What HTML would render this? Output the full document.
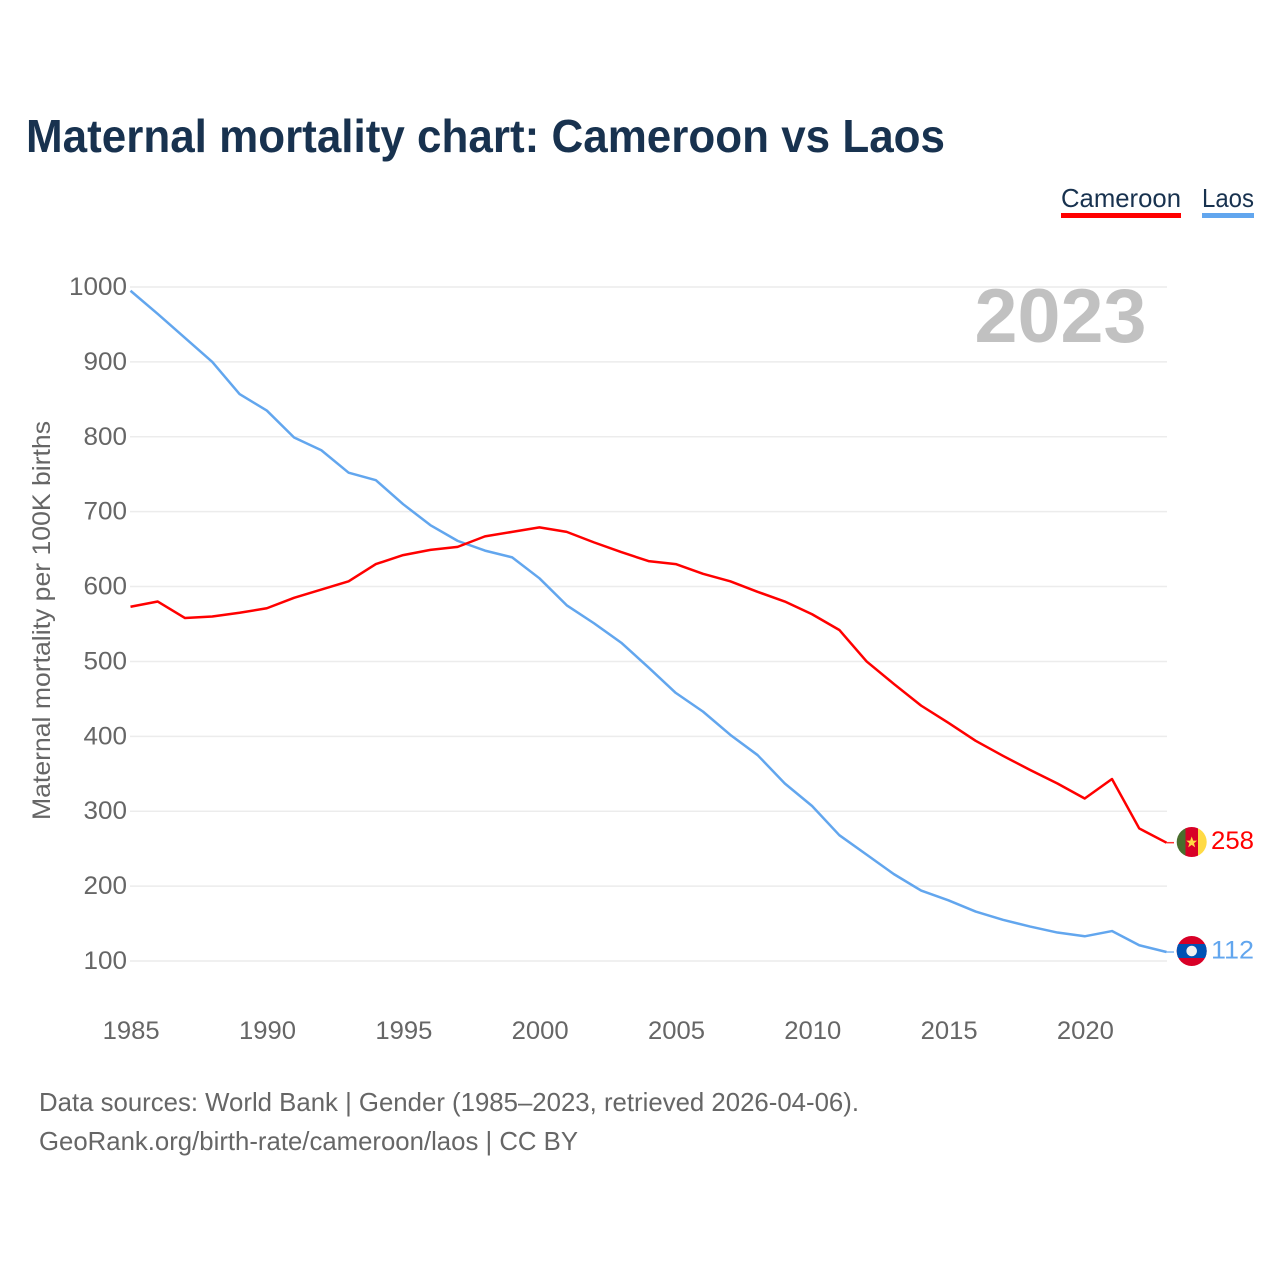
<!DOCTYPE html>
<html lang="en">
<head>
<meta charset="utf-8">
<title>Maternal mortality chart: Cameroon vs Laos</title>
<style>
html,body{margin:0;padding:0;background:#fff;}
svg{display:block;}
text{font-family:"Liberation Sans",sans-serif;}
</style>
</head>
<body>
<svg id="chart" xmlns="http://www.w3.org/2000/svg" width="1280" height="1280" viewBox="0 0 1280 1280">
  <rect x="0" y="0" width="1280" height="1280" fill="#ffffff"/>
  <text x="26" y="152" font-size="46" font-weight="700" fill="#18324f" textLength="919" lengthAdjust="spacingAndGlyphs">Maternal mortality chart: Cameroon vs Laos</text>

  <g>
    <g>
      <text x="1061" y="207" font-size="26" fill="#18324f" textLength="120" lengthAdjust="spacingAndGlyphs">Cameroon</text>
      <rect x="1061" y="213" width="120" height="5" fill="#ff0000"/>
    </g>
    <g>
      <text x="1202" y="207" font-size="26" fill="#18324f" textLength="52" lengthAdjust="spacingAndGlyphs">Laos</text>
      <rect x="1202" y="213" width="52" height="5" fill="#62a6ee"/>
    </g>
  </g>

  <text transform="translate(50 820) rotate(-90)" font-size="25" fill="#666666" textLength="399" lengthAdjust="spacingAndGlyphs">Maternal mortality per 100K births</text>

  <g id="grid"></g>
  <text x="1146.5" y="342" text-anchor="end" font-size="76" font-weight="700" fill="#c1c1c1" textLength="172" lengthAdjust="spacingAndGlyphs">2023</text>
  <g id="yticks"></g>
  <g id="xticks"></g>
  <g id="series"></g>

  <g>
    <defs>
      <clipPath id="clipCm"><circle cx="1191.7" cy="842" r="15"/></clipPath>
      <clipPath id="clipLa"><circle cx="1191.7" cy="951" r="15"/></clipPath>
    </defs>
    <g clip-path="url(#clipCm)">
      <rect x="1176" y="826" width="10" height="32" fill="#496e2d"/>
      <rect x="1185.5" y="826" width="12.5" height="32" fill="#d80027"/>
      <rect x="1198" y="826" width="10" height="32" fill="#ffda44"/>
    </g>
    <polygon points="1191.7,836.5 1193.2,840.6 1197.2,840.6 1194,843.2 1195.2,847.4 1191.7,844.9 1188.2,847.4 1189.4,843.2 1186.2,840.6 1190.2,840.6" fill="#ffda44"/>
  </g>
  <g>
    <g clip-path="url(#clipLa)">
      <rect x="1176" y="935" width="32" height="32" fill="#d80027"/>
      <rect x="1176" y="944" width="32" height="14" fill="#0052b4"/>
    </g>
    <circle cx="1191.7" cy="951" r="5.3" fill="#f0f0f0"/>
  </g>

  <text x="39" y="1111" font-size="26" fill="#666666" textLength="820" lengthAdjust="spacingAndGlyphs">Data sources: World Bank | Gender (1985–2023, retrieved 2026-04-06).</text>
  <text x="39" y="1150" font-size="26" fill="#666666" textLength="539" lengthAdjust="spacingAndGlyphs">GeoRank.org/birth-rate/cameroon/laos | CC BY</text>
</svg>

<script>
const years = [1985,1986,1987,1988,1989,1990,1991,1992,1993,1994,1995,1996,1997,1998,1999,2000,2001,2002,2003,2004,2005,2006,2007,2008,2009,2010,2011,2012,2013,2014,2015,2016,2017,2018,2019,2020,2021,2022,2023];
const cameroon = [573,580,558,560,565,571,585,596,607,630,642,649,653,667,673,679,673,659,646,634,630,617,607,593,580,563,542,500,470,441,418,394,374,355,337,317,343,277,258];
const laos = [995,964,932,900,857,835,799,782,752,742,710,682,661,648,639,611,575,551,525,492,458,433,402,375,337,307,268,242,216,194,181,166,155,146,138,133,140,121,112];
const yTickValues = [100,200,300,400,500,600,700,800,900,1000];
const xTickValues = [1985,1990,1995,2000,2005,2010,2015,2020];

const NS = 'http://www.w3.org/2000/svg';
const xScale = function (year) { return 130.5 + (year - 1985) * (1166.5 - 130.5) / 38; };
const yScale = function (value) { return 961 - (value - 100) * (961 - 287) / 900; };

function make(tag, attrs, parent) {
  const el = document.createElementNS(NS, tag);
  Object.keys(attrs).forEach(function (k) { el.setAttribute(k, attrs[k]); });
  parent.appendChild(el);
  return el;
}

const grid = document.getElementById('grid');
const yticks = document.getElementById('yticks');
yTickValues.forEach(function (v) {
  const line = make('line', {x1: 130, x2: 1167, y1: yScale(v), y2: yScale(v), stroke: '#ececec', 'stroke-width': 1.5}, grid);
  
  
  const label = make('text', {x: 127, y: yScale(v) + 8, 'text-anchor': 'end', 'font-size': 25, fill: '#666666'}, yticks);
  
  
  label.setAttribute('textLength', String(v).length * 14.5);
  label.setAttribute('lengthAdjust', 'spacingAndGlyphs');
  label.textContent = v;
});

const xticks = document.getElementById('xticks');
xTickValues.forEach(function (y) {
  const label = make('text', {x: xScale(y) + 0.7, y: 1039, 'text-anchor': 'middle', 'font-size': 25, fill: '#666666'}, xticks);
  
  
  label.setAttribute('textLength', 57);
  label.setAttribute('lengthAdjust', 'spacingAndGlyphs');
  label.textContent = y;
});

const seriesGroup = document.getElementById('series');
function drawSeries(values, color, seriesName) {
  const pts = values.map(function (v, i) { return xScale(years[i]).toFixed(2) + ',' + yScale(v).toFixed(2); }).join(' ');
  const line = make('polyline', {points: pts, fill: 'none', stroke: color, 'stroke-width': 2.5, 'stroke-linejoin': 'round'}, seriesGroup);
  
  
  const lastValue = values[values.length - 1];
  const lastY = yScale(lastValue);
  const stub = make('line', {x1: xScale(years[years.length - 1]), x2: 1174, y1: lastY, y2: lastY, stroke: color, 'stroke-width': 1.5, opacity: 0.8}, seriesGroup);
  
  
  const label = make('text', {x: 1254, y: lastY + 6.5, 'text-anchor': 'end', 'font-size': 25, fill: color}, seriesGroup);
  
  
  label.setAttribute('textLength', 43);
  label.setAttribute('lengthAdjust', 'spacingAndGlyphs');
  label.textContent = lastValue;
}
drawSeries(laos, '#62a6ee', 'laos');
drawSeries(cameroon, '#ff0000', 'cameroon');
</script>
</body>
</html>
